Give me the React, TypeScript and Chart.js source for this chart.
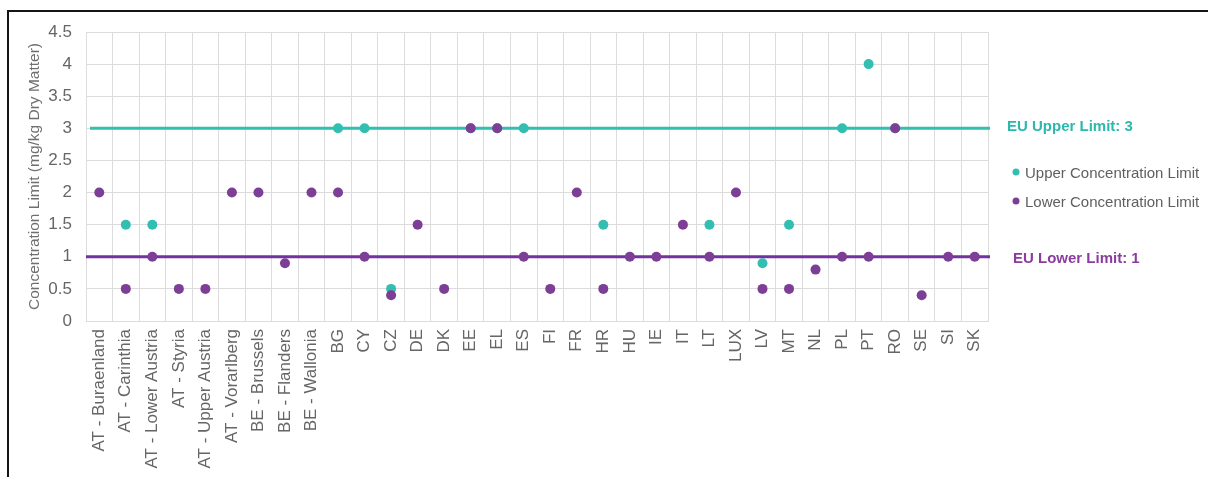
import React, { useEffect, useRef } from "react";
import { Chart, registerables } from "chart.js";

Chart.register(...registerables);

const categories: string[] = [
  "AT - Buraenland", "AT - Carinthia", "AT - Lower Austria", "AT - Styria", "AT - Upper Austria",
  "AT - Vorarlberg", "BE - Brussels", "BE - Flanders", "BE - Wallonia", "BG", "CY", "CZ", "DE",
  "DK", "EE", "EL", "ES", "FI", "FR", "HR", "HU", "IE", "IT", "LT", "LUX", "LV", "MT", "NL",
  "PL", "PT", "RO", "SE", "SI", "SK",
];

const upperLimit: (number | null)[] = [
  null, 1.5, 1.5, null, null, null, null, null, null, 3, 3, 0.5, null, null, 3, 3, 3, null,
  null, 1.5, null, null, null, 1.5, null, 0.9, 1.5, null, 3, 4, 3, null, null, null,
];

const lowerLimit: (number | null)[] = [
  2, 0.5, 1, 0.5, 0.5, 2, 2, 0.9, 2, 2, 1, 0.4, 1.5, 0.5, 3, 3, 1, 0.5, 2, 0.5, 1, 1, 1.5, 1,
  2, 0.5, 0.5, 0.8, 1, 1, 3, 0.4, 1, 1,
];

const euUpper = 3;
const euLower = 1;
const yTicksMin = 0;
const yTicksMax = 4.5;
const yTickStep = 0.5;

const TEAL = "#33BEB2";
const PURPLE_DOT = "#7D3E96";
const PURPLE_LINE = "#7232A0";
const TEAL_TEXT = "#2DB8AC";
const PURPLE_TEXT = "#8A3D9E";
const GREY = "#666666";
const FONT = "'Liberation Sans', Arial, sans-serif";

const overlayPlugin = {
  id: "overlay",
  beforeDatasetsDraw(chart: any) {
    const { ctx, chartArea, scales } = chart;
    const y = scales.y;
    ctx.save();
    ctx.lineWidth = 3;
    ctx.strokeStyle = TEAL;
    const yu = y.getPixelForValue(euUpper);
    ctx.beginPath();
    ctx.moveTo(chartArea.left + 4, yu);
    ctx.lineTo(chartArea.right + 2, yu);
    ctx.stroke();
    ctx.strokeStyle = PURPLE_LINE;
    const yl = y.getPixelForValue(euLower);
    ctx.beginPath();
    ctx.moveTo(chartArea.left, yl);
    ctx.lineTo(chartArea.right + 2, yl);
    ctx.stroke();
    ctx.restore();
  },
  afterDraw(chart: any) {
    const { ctx, chartArea, scales } = chart;
    const y = scales.y;
    ctx.save();
    // y-axis title
    ctx.translate(35, (chartArea.top + chartArea.bottom) / 2);
    ctx.rotate(-Math.PI / 2);
    ctx.font = `15.5px ${FONT}`;
    ctx.fillStyle = "#6f6f6f";
    ctx.textAlign = "center";
    ctx.textBaseline = "middle";
    ctx.fillText("Concentration Limit (mg/kg Dry Matter)", 0, 0);
    ctx.restore();

    ctx.save();
    ctx.textAlign = "left";
    ctx.textBaseline = "middle";
    ctx.font = `bold 15px ${FONT}`;
    ctx.fillStyle = TEAL_TEXT;
    ctx.fillText(`EU Upper Limit: ${euUpper}`, chartArea.right + 19, y.getPixelForValue(euUpper) - 1);
    ctx.fillStyle = PURPLE_TEXT;
    ctx.fillText(`EU Lower Limit: ${euLower}`, chartArea.right + 25, y.getPixelForValue(euLower) + 2);

    // legend
    const items = [
      { label: "Upper Concentration Limit", color: TEAL, yy: 174 },
      { label: "Lower Concentration Limit", color: PURPLE_DOT, yy: 203 },
    ];
    ctx.font = `15px ${FONT}`;
    for (const it of items) {
      ctx.fillStyle = it.color;
      ctx.beginPath();
      ctx.arc(chartArea.right + 28, it.yy - 2, 3.5, 0, Math.PI * 2);
      ctx.fill();
      ctx.fillStyle = "#5f5f5f";
      ctx.fillText(it.label, chartArea.right + 37, it.yy);
    }
    ctx.restore();
  },
};

export default function App() {
  const ref = useRef<HTMLCanvasElement | null>(null);

  useEffect(() => {
    if (!ref.current) return;
    const chart = new Chart(ref.current, {
      type: "line",
      data: {
        labels: categories,
        datasets: [
          {
            label: "Upper Concentration Limit",
            data: upperLimit,
            showLine: false,
            pointRadius: 5,
            pointHoverRadius: 5,
            pointBackgroundColor: TEAL,
            pointBorderColor: TEAL,
            pointBorderWidth: 0,
            backgroundColor: TEAL,
            borderColor: TEAL,
            order: 2,
          },
          {
            label: "Lower Concentration Limit",
            data: lowerLimit,
            showLine: false,
            pointRadius: 5,
            pointHoverRadius: 5,
            pointBackgroundColor: PURPLE_DOT,
            pointBorderColor: PURPLE_DOT,
            pointBorderWidth: 0,
            backgroundColor: PURPLE_DOT,
            borderColor: PURPLE_DOT,
            order: 1,
          },
        ],
      },
      options: {
        animation: false,
        responsive: false,
        maintainAspectRatio: false,
        events: [],
        layout: { padding: { left: 0, top: 32, right: 220, bottom: 0 } },
        plugins: {
          legend: { display: false },
          title: { display: false },
          tooltip: { enabled: false },
        },
        scales: {
          x: {
            type: "category",
            offset: true,
            grid: { offset: true, color: "#dcdcdc", lineWidth: 1, drawTicks: false },
            border: { color: "#dcdcdc" },
            ticks: {
              autoSkip: false,
              maxRotation: 90,
              minRotation: 90,
              padding: 8,
              color: GREY,
              font: { family: FONT, size: 17 },
            },
            afterFit(scale: any) {
              scale.height = 156;
            },
          },
          y: {
            min: yTicksMin,
            max: yTicksMax,
            grid: { color: "#dcdcdc", lineWidth: 1, drawTicks: false },
            border: { color: "#dcdcdc" },
            ticks: {
              stepSize: yTickStep,
              padding: 14,
              color: GREY,
              font: { family: FONT, size: 17 },
              callback: (value: any) => String(Number(value)),
            },
            afterFit(scale: any) {
              scale.width = 86;
            },
          },
        },
      },
      plugins: [overlayPlugin],
    } as any);
    return () => chart.destroy();
  }, []);

  return (
    <div
      style={{
        position: "fixed",
        left: 0,
        top: 0,
        width: 1208,
        height: 477,
        overflow: "hidden",
        background: "#fff",
      }}
    >
      <div
        style={{
          position: "absolute",
          left: 7,
          top: 10,
          width: 1240,
          height: 520,
          border: "2px solid #151515",
          boxSizing: "border-box",
        }}
      />
      <canvas
        ref={ref}
        width={1208}
        height={477}
        style={{ position: "absolute", left: 0, top: 0, width: 1208, height: 477 }}
      />
    </div>
  );
}
